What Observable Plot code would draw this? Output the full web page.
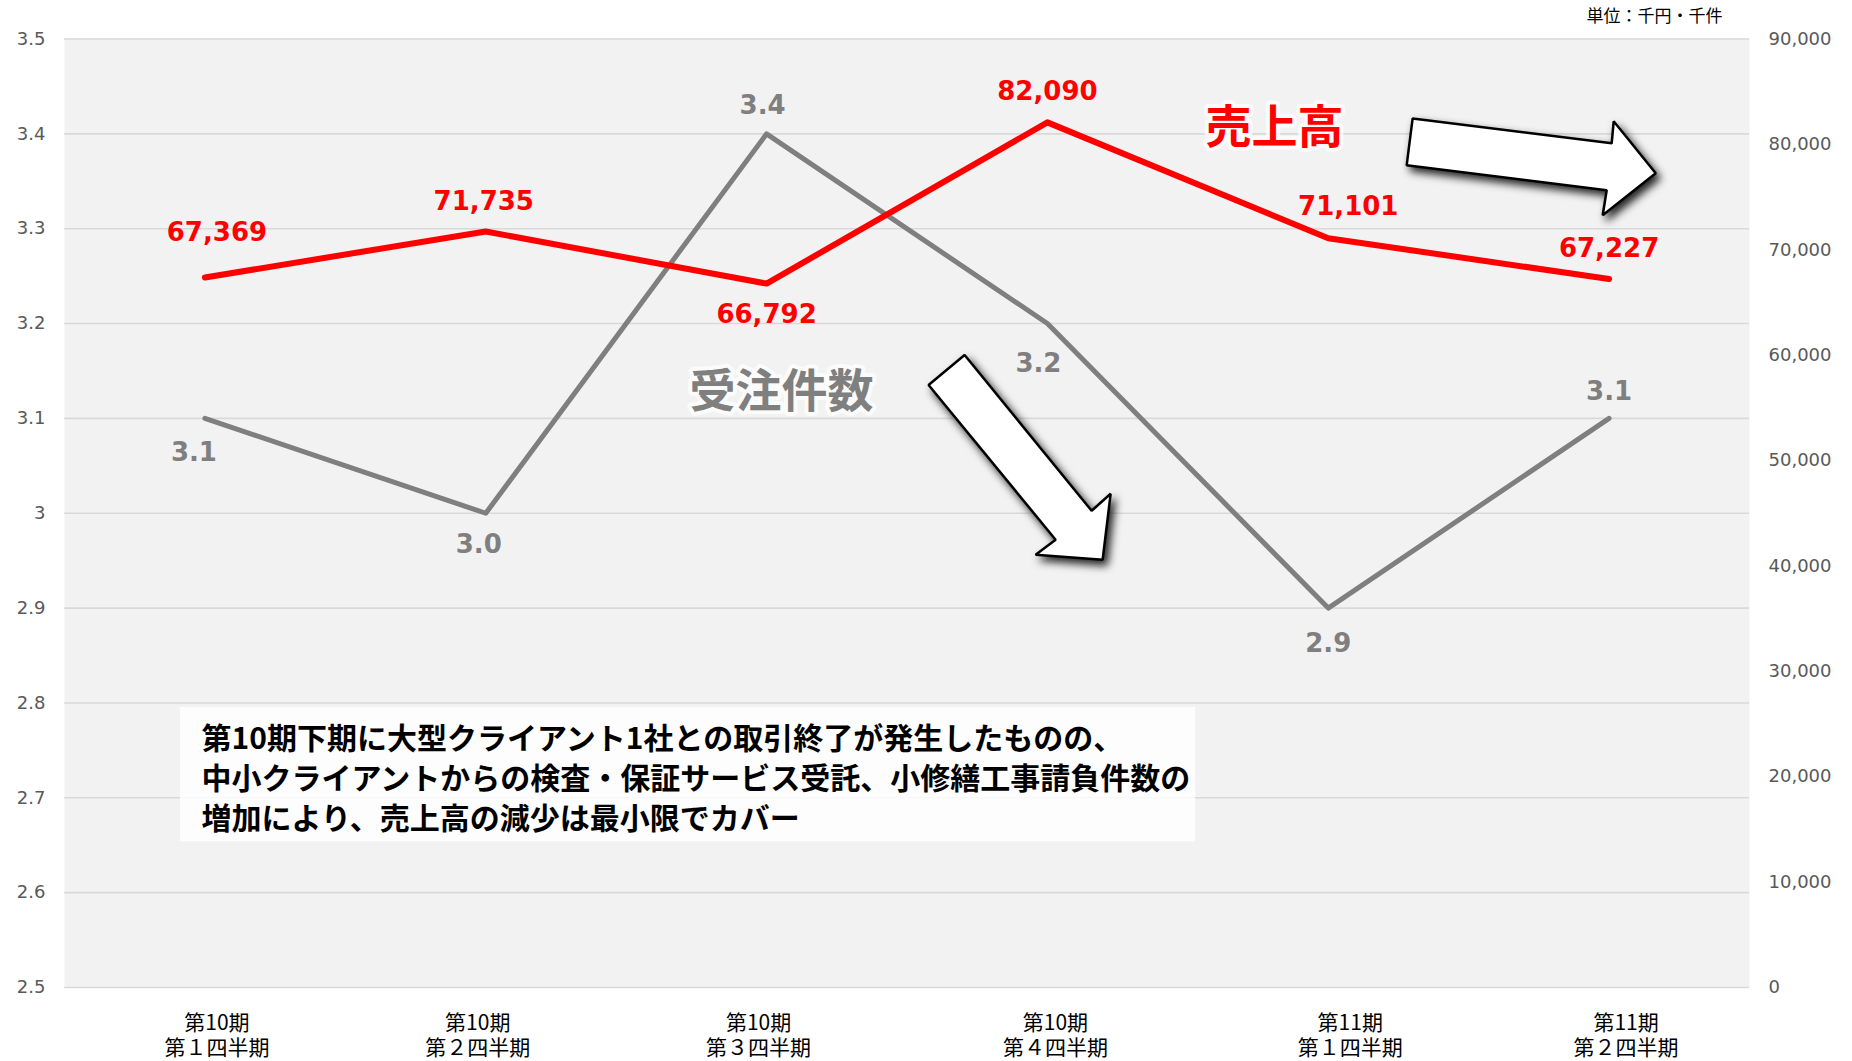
<!DOCTYPE html>
<html>
<head>
<meta charset="utf-8">
<script src="https://cdn.jsdelivr.net/npm/d3@7"></script>
<script src="https://cdn.jsdelivr.net/npm/@observablehq/plot@0.6"></script>
<style>
  body { margin: 0; background: #ffffff; }
  #chart g[fill="white"][stroke="black"] { filter: drop-shadow(4px 5px 4px rgba(0,0,0,0.85)); }
</style>
</head>
<body>
<div id="chart"></div>
<script>
// ---- data ----
const periods  = ["第10期", "第10期", "第10期", "第10期", "第11期", "第11期"];
const quarters = ["第１四半期", "第２四半期", "第３四半期", "第４四半期", "第１四半期", "第２四半期"];
const orders   = [3.1, 3.0, 3.4, 3.2, 2.9, 3.1];                 // 受注件数 (千件, 左軸)
const sales    = [67369, 71735, 66792, 82090, 71101, 67227];     // 売上高 (千円, 右軸)
const leftTicks  = [2.5, 2.6, 2.7, 2.8, 2.9, 3, 3.1, 3.2, 3.3, 3.4, 3.5];
const rightTicks = [0, 10000, 20000, 30000, 40000, 50000, 60000, 70000, 80000, 90000];
const unitText = "単位：千円・千件";
const seriesNames = ["売上高", "受注件数"];
const noteLines = [
  "第10期下期に大型クライアント1社との取引終了が発生したものの、",
  "中小クライアントからの検査・保証サービス受託、小修繕工事請負件数の",
  "増加により、売上高の減少は最小限でカバー"
];

// label placement (pixel nudges, kept apart from the data)
const salesLabelDx  = [12, -2, 0, 0, 20, 0];
const salesLabelDy  = [-45, -30, 31, -31, -32, -30];
const ordersLabelDx = [-11, -7, -4, -9, 0, 0];
const ordersLabelDy = [34, 31, -28, 40, 36, -27];
const xLabelDx      = [12, -8, -8, 8, 22, 17];

// annotation anchors (category index, left-axis value)
const notePos   = {x: -0.012, y: 2.7226};
const noteBox   = {x1: -0.087, x2: 3.528, y1: 2.6536, y2: 2.7953};
const salesNamePos  = {x: 3.809, y: 3.4058};
const ordersNamePos = {x: 2.053, y: 3.1279};
const arrowRight = [
  {x: 4.3005, y: 3.4163}, {x: 5.0093, y: 3.3900}, {x: 5.0164, y: 3.4132},
  {x: 5.1660, y: 3.3584}, {x: 4.9772, y: 3.3142}, {x: 4.9915, y: 3.3405},
  {x: 4.2792, y: 3.3668}
];
const arrowDown = [
  {x: 2.7051, y: 3.1668}, {x: 3.1574, y: 3.0026}, {x: 3.2251, y: 3.0205},
  {x: 3.1966, y: 2.9511}, {x: 2.9580, y: 2.9563}, {x: 3.0292, y: 2.9721},
  {x: 2.5769, y: 3.1353}
];

// ---- derived ----
const leftMin = leftTicks[0], leftMax = leftTicks[leftTicks.length - 1];
const rightMax = rightTicks[rightTicks.length - 1];
const toLeft = v => leftMin + v / rightMax * (leftMax - leftMin);
const rows = periods.map((p, i) => ({i, orders: orders[i], sales: sales[i], salesY: toLeft(sales[i])}));
const fmt = d3.format(",");
const numFont = "DejaVu Sans, Verdana, sans-serif";
const jpFont = "'Noto Sans CJK JP', 'Noto Sans', sans-serif";

const salesLabels = rows.map((d, k) => Plot.text([d], {x: "i", y: "salesY", text: r => fmt(r.sales),
  dx: salesLabelDx[k], dy: salesLabelDy[k], fill: "#ff0000", fontWeight: "bold", fontSize: 26, fontFamily: numFont}));
const ordersLabels = rows.map((d, k) => Plot.text([d], {x: "i", y: "orders", text: r => r.orders.toFixed(1),
  dx: ordersLabelDx[k], dy: ordersLabelDy[k], fill: "#7f7f7f", fontWeight: "bold", fontSize: 26, fontFamily: numFont}));
const xLabels = rows.map((d, k) => Plot.text([d], {x: "i", frameAnchor: "bottom", text: r => periods[r.i] + "\n" + quarters[r.i],
  dx: xLabelDx[k], dy: 24, lineAnchor: "top", lineHeight: 1.22, fontSize: 21, fontFamily: jpFont, fill: "#000000"}));

const chart = Plot.plot({
  width: 1852,
  height: 1061,
  marginLeft: 64,
  marginRight: 103,
  marginTop: 38.5,
  marginBottom: 74,
  style: {fontFamily: numFont, fontSize: "18px", color: "#595959", background: "#ffffff"},
  x: {type: "linear", domain: [-0.5, 5.5], axis: null},
  y: {type: "linear", domain: [leftMin, leftMax]},
  marks: [
    Plot.frame({fill: "#f2f2f2", stroke: null}),
    Plot.ruleY(leftTicks, {stroke: "#d9d9d9", strokeWidth: 1.6}),
    Plot.axisY(leftTicks, {anchor: "left", tickSize: 0, tickPadding: 19, fontSize: 18, fill: "#595959",
      tickFormat: d => String(d)}),
    Plot.axisY(rightTicks.map(toLeft), {anchor: "right", tickSize: 0, tickPadding: 19, fontSize: 18, fill: "#595959",
      tickFormat: d => fmt(Math.round((d - leftMin) / (leftMax - leftMin) * rightMax))}),
    ...xLabels,
    // annotation box
    Plot.rect([noteBox], {x1: "x1", x2: "x2", y1: "y1", y2: "y2", fill: "#ffffff", fillOpacity: 0.82}),
    Plot.text([noteLines.join("\n")], {x: notePos.x, y: notePos.y, textAnchor: "start", lineAnchor: "middle",
      fontFamily: jpFont, fontWeight: "bold", fontSize: 30, lineHeight: 1.33, fill: "#000000"}),
    // series lines
    Plot.line(rows, {x: "i", y: "orders", stroke: "#7f7f7f", strokeWidth: 5, strokeLinejoin: "round", strokeLinecap: "round"}),
    Plot.line(rows, {x: "i", y: "salesY", stroke: "#ff0000", strokeWidth: 6, strokeLinejoin: "round", strokeLinecap: "round"}),
    // data labels
    ...salesLabels,
    ...ordersLabels,
    // series names
    Plot.text([seriesNames[0]], {x: salesNamePos.x, y: salesNamePos.y, fill: "#ff0000", fontSize: 46, fontWeight: "bold",
      fontFamily: jpFont, stroke: "#ffffff", strokeWidth: 8, strokeOpacity: 0.75, strokeLinejoin: "round"}),
    Plot.text([seriesNames[1]], {x: ordersNamePos.x, y: ordersNamePos.y, fill: "#7f7f7f", fontSize: 46, fontWeight: "bold",
      fontFamily: jpFont, stroke: "#ffffff", strokeWidth: 8, strokeOpacity: 0.75, strokeLinejoin: "round"}),
    // arrows
    Plot.line(arrowRight, {x: "x", y: "y", curve: "linear-closed", fill: "white", stroke: "black", strokeWidth: 2.5, strokeLinejoin: "miter"}),
    Plot.line(arrowDown, {x: "x", y: "y", curve: "linear-closed", fill: "white", stroke: "black", strokeWidth: 2.5, strokeLinejoin: "miter"}),
    // unit
    Plot.text([unitText], {frameAnchor: "top-right", dx: -27, dy: -22, lineAnchor: "middle", textAnchor: "end",
      fontFamily: jpFont, fontSize: 17, fill: "#000000"})
  ]
});
document.getElementById("chart").appendChild(chart);
</script>
</body>
</html>
